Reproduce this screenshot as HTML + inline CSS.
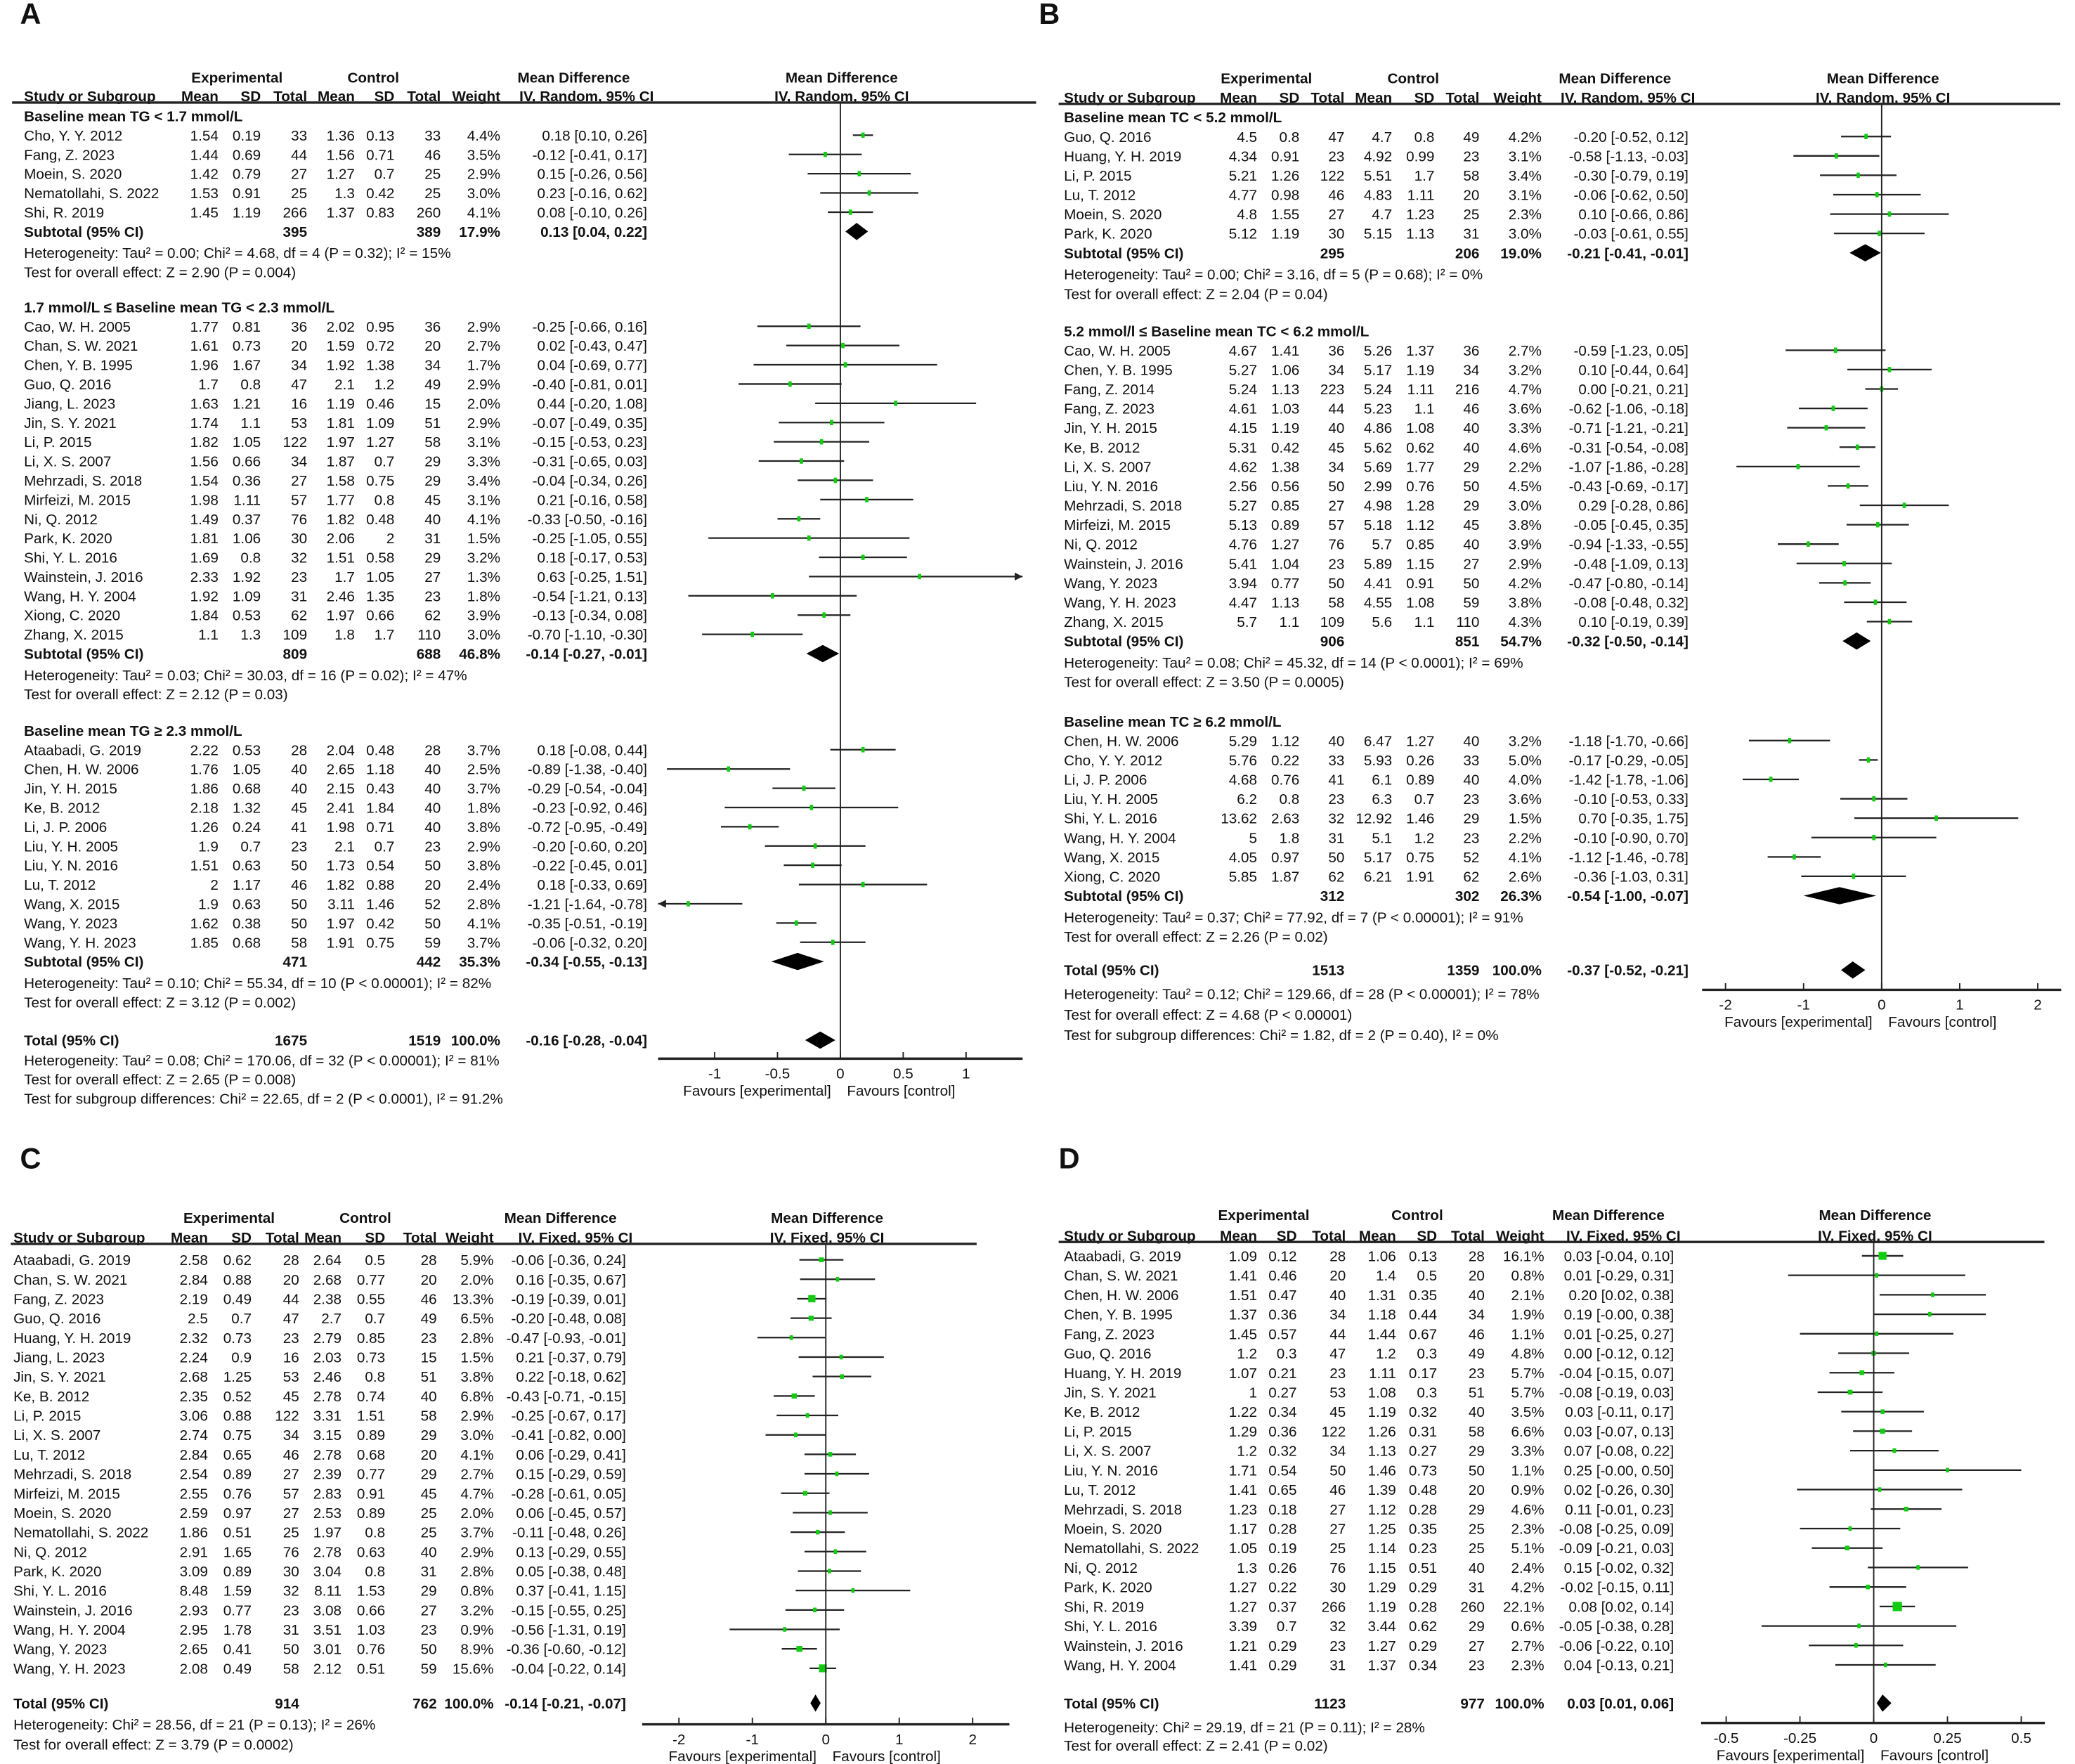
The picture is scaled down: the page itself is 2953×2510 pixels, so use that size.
<!DOCTYPE html>
<html><head><meta charset="utf-8">
<style>
html,body{margin:0;padding:0;background:#fff;}
svg{display:block;}
text{font-family:"Liberation Sans Narrow","Liberation Sans",sans-serif;font-size:11px;fill:#111;}
.b{font-weight:bold;}
.lbl{font-family:"Liberation Sans",sans-serif;font-size:22px;font-weight:bold;}
</style></head>
<body>
<svg id="fig" width="2953" height="2510" viewBox="0 0 1568 1333" xmlns="http://www.w3.org/2000/svg"></svg>
<script>
// ===== Panel A (TG, random) =====
const a1Studies=["Cho, Y. Y. 2012","Fang, Z. 2023","Moein, S. 2020","Nematollahi, S. 2022","Shi, R. 2019"];
const a1Stats=["1.54 0.19 33 1.36 0.13 33","1.44 0.69 44 1.56 0.71 46","1.42 0.79 27 1.27 0.7 25","1.53 0.91 25 1.3 0.42 25","1.45 1.19 266 1.37 0.83 260"];
const a1Weight=[4.4,3.5,2.9,3.0,4.1];
const a1MD=[0.18,-0.12,0.15,0.23,0.08];
const a1Lo=[0.10,-0.41,-0.26,-0.16,-0.10];
const a1Hi=[0.26,0.17,0.56,0.62,0.26];
const a1Sub=[395,389,17.9,0.13,0.04,0.22];

const a2Studies=["Cao, W. H. 2005","Chan, S. W. 2021","Chen, Y. B. 1995","Guo, Q. 2016","Jiang, L. 2023","Jin, S. Y. 2021","Li, P. 2015","Li, X. S. 2007","Mehrzadi, S. 2018","Mirfeizi, M. 2015","Ni, Q. 2012","Park, K. 2020","Shi, Y. L. 2016","Wainstein, J. 2016","Wang, H. Y. 2004","Xiong, C. 2020","Zhang, X. 2015"];
const a2Stats=["1.77 0.81 36 2.02 0.95 36","1.61 0.73 20 1.59 0.72 20","1.96 1.67 34 1.92 1.38 34","1.7 0.8 47 2.1 1.2 49","1.63 1.21 16 1.19 0.46 15","1.74 1.1 53 1.81 1.09 51","1.82 1.05 122 1.97 1.27 58","1.56 0.66 34 1.87 0.7 29","1.54 0.36 27 1.58 0.75 29","1.98 1.11 57 1.77 0.8 45","1.49 0.37 76 1.82 0.48 40","1.81 1.06 30 2.06 2 31","1.69 0.8 32 1.51 0.58 29","2.33 1.92 23 1.7 1.05 27","1.92 1.09 31 2.46 1.35 23","1.84 0.53 62 1.97 0.66 62","1.1 1.3 109 1.8 1.7 110"];
const a2Weight=[2.9,2.7,1.7,2.9,2.0,2.9,3.1,3.3,3.4,3.1,4.1,1.5,3.2,1.3,1.8,3.9,3.0];
const a2MD=[-0.25,0.02,0.04,-0.40,0.44,-0.07,-0.15,-0.31,-0.04,0.21,-0.33,-0.25,0.18,0.63,-0.54,-0.13,-0.70];
const a2Lo=[-0.66,-0.43,-0.69,-0.81,-0.20,-0.49,-0.53,-0.65,-0.34,-0.16,-0.50,-1.05,-0.17,-0.25,-1.21,-0.34,-1.10];
const a2Hi=[0.16,0.47,0.77,0.01,1.08,0.35,0.23,0.03,0.26,0.58,-0.16,0.55,0.53,1.51,0.13,0.08,-0.30];
const a2Sub=[809,688,46.8,-0.14,-0.27,-0.01];

const a3Studies=["Ataabadi, G. 2019","Chen, H. W. 2006","Jin, Y. H. 2015","Ke, B. 2012","Li, J. P. 2006","Liu, Y. H. 2005","Liu, Y. N. 2016","Lu, T. 2012","Wang, X. 2015","Wang, Y. 2023","Wang, Y. H. 2023"];
const a3Stats=["2.22 0.53 28 2.04 0.48 28","1.76 1.05 40 2.65 1.18 40","1.86 0.68 40 2.15 0.43 40","2.18 1.32 45 2.41 1.84 40","1.26 0.24 41 1.98 0.71 40","1.9 0.7 23 2.1 0.7 23","1.51 0.63 50 1.73 0.54 50","2 1.17 46 1.82 0.88 20","1.9 0.63 50 3.11 1.46 52","1.62 0.38 50 1.97 0.42 50","1.85 0.68 58 1.91 0.75 59"];
const a3Weight=[3.7,2.5,3.7,1.8,3.8,2.9,3.8,2.4,2.8,4.1,3.7];
const a3MD=[0.18,-0.89,-0.29,-0.23,-0.72,-0.20,-0.22,0.18,-1.21,-0.35,-0.06];
const a3Lo=[-0.08,-1.38,-0.54,-0.92,-0.95,-0.60,-0.45,-0.33,-1.64,-0.51,-0.32];
const a3Hi=[0.44,-0.40,-0.04,0.46,-0.49,0.20,0.01,0.69,-0.78,-0.19,0.20];
const a3Sub=[471,442,35.3,-0.34,-0.55,-0.13];
const aTotal=[1675,1519,100.0,-0.16,-0.28,-0.04];
const aTicks=[-1,-0.5,0,0.5,1];
const aTickLabels=["-1","-0.5","0","0.5","1"];

// ===== Panel B (TC, random) =====
const b1Studies=["Guo, Q. 2016","Huang, Y. H. 2019","Li, P. 2015","Lu, T. 2012","Moein, S. 2020","Park, K. 2020"];
const b1Stats=["4.5 0.8 47 4.7 0.8 49","4.34 0.91 23 4.92 0.99 23","5.21 1.26 122 5.51 1.7 58","4.77 0.98 46 4.83 1.11 20","4.8 1.55 27 4.7 1.23 25","5.12 1.19 30 5.15 1.13 31"];
const b1Weight=[4.2,3.1,3.4,3.1,2.3,3.0];
const b1MD=[-0.20,-0.58,-0.30,-0.06,0.10,-0.03];
const b1Lo=[-0.52,-1.13,-0.79,-0.62,-0.66,-0.61];
const b1Hi=[0.12,-0.03,0.19,0.50,0.86,0.55];
const b1Sub=[295,206,19.0,-0.21,-0.41,-0.01];

const b2Studies=["Cao, W. H. 2005","Chen, Y. B. 1995","Fang, Z. 2014","Fang, Z. 2023","Jin, Y. H. 2015","Ke, B. 2012","Li, X. S. 2007","Liu, Y. N. 2016","Mehrzadi, S. 2018","Mirfeizi, M. 2015","Ni, Q. 2012","Wainstein, J. 2016","Wang, Y. 2023","Wang, Y. H. 2023","Zhang, X. 2015"];
const b2Stats=["4.67 1.41 36 5.26 1.37 36","5.27 1.06 34 5.17 1.19 34","5.24 1.13 223 5.24 1.11 216","4.61 1.03 44 5.23 1.1 46","4.15 1.19 40 4.86 1.08 40","5.31 0.42 45 5.62 0.62 40","4.62 1.38 34 5.69 1.77 29","2.56 0.56 50 2.99 0.76 50","5.27 0.85 27 4.98 1.28 29","5.13 0.89 57 5.18 1.12 45","4.76 1.27 76 5.7 0.85 40","5.41 1.04 23 5.89 1.15 27","3.94 0.77 50 4.41 0.91 50","4.47 1.13 58 4.55 1.08 59","5.7 1.1 109 5.6 1.1 110"];
const b2Weight=[2.7,3.2,4.7,3.6,3.3,4.6,2.2,4.5,3.0,3.8,3.9,2.9,4.2,3.8,4.3];
const b2MD=[-0.59,0.10,0.00,-0.62,-0.71,-0.31,-1.07,-0.43,0.29,-0.05,-0.94,-0.48,-0.47,-0.08,0.10];
const b2Lo=[-1.23,-0.44,-0.21,-1.06,-1.21,-0.54,-1.86,-0.69,-0.28,-0.45,-1.33,-1.09,-0.80,-0.48,-0.19];
const b2Hi=[0.05,0.64,0.21,-0.18,-0.21,-0.08,-0.28,-0.17,0.86,0.35,-0.55,0.13,-0.14,0.32,0.39];
const b2Sub=[906,851,54.7,-0.32,-0.50,-0.14];

const b3Studies=["Chen, H. W. 2006","Cho, Y. Y. 2012","Li, J. P. 2006","Liu, Y. H. 2005","Shi, Y. L. 2016","Wang, H. Y. 2004","Wang, X. 2015","Xiong, C. 2020"];
const b3Stats=["5.29 1.12 40 6.47 1.27 40","5.76 0.22 33 5.93 0.26 33","4.68 0.76 41 6.1 0.89 40","6.2 0.8 23 6.3 0.7 23","13.62 2.63 32 12.92 1.46 29","5 1.8 31 5.1 1.2 23","4.05 0.97 50 5.17 0.75 52","5.85 1.87 62 6.21 1.91 62"];
const b3Weight=[3.2,5.0,4.0,3.6,1.5,2.2,4.1,2.6];
const b3MD=[-1.18,-0.17,-1.42,-0.10,0.70,-0.10,-1.12,-0.36];
const b3Lo=[-1.70,-0.29,-1.78,-0.53,-0.35,-0.90,-1.46,-1.03];
const b3Hi=[-0.66,-0.05,-1.06,0.33,1.75,0.70,-0.78,0.31];
const b3Sub=[312,302,26.3,-0.54,-1.00,-0.07];
const bTotal=[1513,1359,100.0,-0.37,-0.52,-0.21];
const bTicks=[-2,-1,0,1,2];
const bTickLabels=["-2","-1","0","1","2"];

// ===== Panel C (fixed) =====
const cStudies=["Ataabadi, G. 2019","Chan, S. W. 2021","Fang, Z. 2023","Guo, Q. 2016","Huang, Y. H. 2019","Jiang, L. 2023","Jin, S. Y. 2021","Ke, B. 2012","Li, P. 2015","Li, X. S. 2007","Lu, T. 2012","Mehrzadi, S. 2018","Mirfeizi, M. 2015","Moein, S. 2020","Nematollahi, S. 2022","Ni, Q. 2012","Park, K. 2020","Shi, Y. L. 2016","Wainstein, J. 2016","Wang, H. Y. 2004","Wang, Y. 2023","Wang, Y. H. 2023"];
const cStats=["2.58 0.62 28 2.64 0.5 28","2.84 0.88 20 2.68 0.77 20","2.19 0.49 44 2.38 0.55 46","2.5 0.7 47 2.7 0.7 49","2.32 0.73 23 2.79 0.85 23","2.24 0.9 16 2.03 0.73 15","2.68 1.25 53 2.46 0.8 51","2.35 0.52 45 2.78 0.74 40","3.06 0.88 122 3.31 1.51 58","2.74 0.75 34 3.15 0.89 29","2.84 0.65 46 2.78 0.68 20","2.54 0.89 27 2.39 0.77 29","2.55 0.76 57 2.83 0.91 45","2.59 0.97 27 2.53 0.89 25","1.86 0.51 25 1.97 0.8 25","2.91 1.65 76 2.78 0.63 40","3.09 0.89 30 3.04 0.8 31","8.48 1.59 32 8.11 1.53 29","2.93 0.77 23 3.08 0.66 27","2.95 1.78 31 3.51 1.03 23","2.65 0.41 50 3.01 0.76 50","2.08 0.49 58 2.12 0.51 59"];
const cWeight=[5.9,2.0,13.3,6.5,2.8,1.5,3.8,6.8,2.9,3.0,4.1,2.7,4.7,2.0,3.7,2.9,2.8,0.8,3.2,0.9,8.9,15.6];
const cMD=[-0.06,0.16,-0.19,-0.20,-0.47,0.21,0.22,-0.43,-0.25,-0.41,0.06,0.15,-0.28,0.06,-0.11,0.13,0.05,0.37,-0.15,-0.56,-0.36,-0.04];
const cLo=[-0.36,-0.35,-0.39,-0.48,-0.93,-0.37,-0.18,-0.71,-0.67,-0.82,-0.29,-0.29,-0.61,-0.45,-0.48,-0.29,-0.38,-0.41,-0.55,-1.31,-0.60,-0.22];
const cHi=[0.24,0.67,0.01,0.08,-0.01,0.79,0.62,-0.15,0.17,0.00,0.41,0.59,0.05,0.57,0.26,0.55,0.48,1.15,0.25,0.19,-0.12,0.14];
const cTotal=[914,762,100.0,-0.14,-0.21,-0.07];
const cTicks=[-2,-1,0,1,2];
const cTickLabels=["-2","-1","0","1","2"];

// ===== Panel D (fixed) =====
const dStudies=["Ataabadi, G. 2019","Chan, S. W. 2021","Chen, H. W. 2006","Chen, Y. B. 1995","Fang, Z. 2023","Guo, Q. 2016","Huang, Y. H. 2019","Jin, S. Y. 2021","Ke, B. 2012","Li, P. 2015","Li, X. S. 2007","Liu, Y. N. 2016","Lu, T. 2012","Mehrzadi, S. 2018","Moein, S. 2020","Nematollahi, S. 2022","Ni, Q. 2012","Park, K. 2020","Shi, R. 2019","Shi, Y. L. 2016","Wainstein, J. 2016","Wang, H. Y. 2004"];
const dStats=["1.09 0.12 28 1.06 0.13 28","1.41 0.46 20 1.4 0.5 20","1.51 0.47 40 1.31 0.35 40","1.37 0.36 34 1.18 0.44 34","1.45 0.57 44 1.44 0.67 46","1.2 0.3 47 1.2 0.3 49","1.07 0.21 23 1.11 0.17 23","1 0.27 53 1.08 0.3 51","1.22 0.34 45 1.19 0.32 40","1.29 0.36 122 1.26 0.31 58","1.2 0.32 34 1.13 0.27 29","1.71 0.54 50 1.46 0.73 50","1.41 0.65 46 1.39 0.48 20","1.23 0.18 27 1.12 0.28 29","1.17 0.28 27 1.25 0.35 25","1.05 0.19 25 1.14 0.23 25","1.3 0.26 76 1.15 0.51 40","1.27 0.22 30 1.29 0.29 31","1.27 0.37 266 1.19 0.28 260","3.39 0.7 32 3.44 0.62 29","1.21 0.29 23 1.27 0.29 27","1.41 0.29 31 1.37 0.34 23"];
const dWeight=[16.1,0.8,2.1,1.9,1.1,4.8,5.7,5.7,3.5,6.6,3.3,1.1,0.9,4.6,2.3,5.1,2.4,4.2,22.1,0.6,2.7,2.3];
const dMD=[0.03,0.01,0.20,0.19,0.01,0.00,-0.04,-0.08,0.03,0.03,0.07,0.25,0.02,0.11,-0.08,-0.09,0.15,-0.02,0.08,-0.05,-0.06,0.04];
const dLo=[-0.04,-0.29,0.02,-0.00,-0.25,-0.12,-0.15,-0.19,-0.11,-0.07,-0.08,-0.00,-0.26,-0.01,-0.25,-0.21,-0.02,-0.15,0.02,-0.38,-0.22,-0.13];
const dHi=[0.10,0.31,0.38,0.38,0.27,0.12,0.07,0.03,0.17,0.13,0.22,0.50,0.30,0.23,0.09,0.03,0.32,0.11,0.14,0.28,0.10,0.21];
const dTotal=[1123,977,100.0,0.03,0.01,0.06];
const dTicks=[-0.5,-0.25,0,0.25,0.5];
const dTickLabels=["-0.5","-0.25","0","0.25","0.5"];

const NS="http://www.w3.org/2000/svg";
const svg=document.getElementById('fig');
function mk(tag,attrs,name){
  const el=document.createElementNS(NS,tag);
  for(const k in attrs) el.setAttribute(k,attrs[k]);
  
  
  svg.appendChild(el);
  return el;
}
function txt(x,y,s,name,anchor,bold,cls){
  const el=mk('text',{x:x,y:y+4,'text-anchor':anchor||'start'},name);
  if(bold) el.setAttribute('class','b');
  if(cls) el.setAttribute('class',cls);
  el.textContent=s;
  return el;
}
function f2(v){return Object.is(v,-0)?"-0.00":v.toFixed(2);}
function ciStr(md,lo,hi){return f2(md)+" ["+f2(lo)+", "+f2(hi)+"]";}
function X(P,v){return P.zero+v*P.ppu;}

function header(P){
  txt(P.expC,P.h1,"Experimental","experimental-header","middle",true);
  txt(P.ctlC,P.h1,"Control","control-header","middle",true);
  txt(P.mdL,P.h1,"Mean Difference","mean-difference-header",'start',true);
  txt(P.zero+1,P.h1,"Mean Difference","plot-mean-difference-header","middle",true);
  txt(P.x0,P.h2,"Study or Subgroup","study-column-header",'start',true);
  const hs=["Mean","SD","Total","Mean","SD","Total","Weight"];
  hs.forEach((h,i)=>{txt(P.cols[i],P.h2,h,'column-header-'+h.toLowerCase(),'end',true);});
  txt(P.cols[7]+5,P.h2,"IV, "+P.model+", 95% CI","ci-column-header",'end',true);
  txt(P.zero+1,P.h2,"IV, "+P.model+", 95% CI","plot-ci-header","middle",true);
  mk('line',{x1:P.lx1,x2:P.lx2,y1:P.h2+5,y2:P.h2+5,stroke:'#222','stroke-width':1.8},'header-rule');
}
function studyMark(P,y,md,lo,hi,w){
  const a=P.rmin,b=P.rmax;
  const l=Math.max(lo,a),h=Math.min(hi,b);
  mk('line',{x1:X(P,l),x2:X(P,h),y1:y,y2:y,stroke:'#222','stroke-width':1.2},'ci-line');
  if(hi>b){const xe=X(P,b);mk('polygon',{points:`${xe},${y} ${xe-6},${y-3} ${xe-6},${y+3}`,fill:'#222'},'ci-arrow-right');}
  if(lo<a){const xs=X(P,a);mk('polygon',{points:`${xs},${y} ${xs+6},${y-3} ${xs+6},${y+3}`,fill:'#222'},'ci-arrow-left');}
  let sw,sh;
  if(P.fixed){sw=Math.max(2.5,1.5*Math.sqrt(w));sh=Math.max(3.5,sw);}else{sw=2.5;sh=4;}
  mk('rect',{x:X(P,md)-sw/2,y:y-sh/2,width:sw,height:sh,fill:'#11cc11'},'study-point-estimate');
}
function diamond(P,y,md,lo,hi,name){
  mk('polygon',{points:`${X(P,lo)},${y} ${X(P,md)},${y-6.5} ${X(P,hi)},${y} ${X(P,md)},${y+6.5}`,fill:'#000'},name);
}
function studyRows(P,y0,step,names,stats,wts,md,lo,hi){
  names.forEach((n,i)=>{
    const y=y0+step*i;
    txt(P.x0,y,n,'study-name');
    stats[i].split(' ').forEach((s,j)=>{txt(P.cols[j],y,s,'study-stat','end');});
    txt(P.cols[6],y,wts[i].toFixed(1)+"%",'study-weight','end');
    txt(P.cols[7],y,ciStr(md[i],lo[i],hi[i]),'study-ci','end');
    studyMark(P,y,md[i],lo[i],hi[i],wts[i]);
  });
}
function summaryRow(P,y,label,sub,name){
  txt(P.x0,y,label,name+'-label','start',true);
  txt(P.cols[2],y,String(sub[0]),name+'-n-exp','end',true);
  txt(P.cols[5],y,String(sub[1]),name+'-n-ctl','end',true);
  txt(P.cols[6],y,sub[2].toFixed(1)+"%",name+'-weight','end',true);
  txt(P.cols[7],y,ciStr(sub[3],sub[4],sub[5]),name+'-ci','end',true);
  diamond(P,y,sub[3],sub[4],sub[5],name+'-diamond');
}
function section(P,hy,step,title,names,stats,wts,md,lo,hi,sub,het,test){
  txt(P.x0,hy,title,'subgroup-title','start',true);
  studyRows(P,hy+step,step,names,stats,wts,md,lo,hi);
  const n=names.length;
  summaryRow(P,hy+step*(n+1),"Subtotal (95% CI)",sub,'subtotal');
  txt(P.x0,hy+step*(n+2)+1.5,het,'subgroup-heterogeneity');
  txt(P.x0,hy+step*(n+3)+1.5,test,'subgroup-overall-effect');
}
function axis(P,ticks,labels,zTop){
  mk('line',{x1:P.zero,x2:P.zero,y1:zTop,y2:P.ay,stroke:'#222','stroke-width':1},'zero-line');
  mk('line',{x1:X(P,P.rmin),x2:X(P,P.rmax),y1:P.ay,y2:P.ay,stroke:'#222','stroke-width':1.8},'x-axis');
  ticks.forEach((t,i)=>{
    mk('line',{x1:X(P,t),x2:X(P,t),y1:P.ay-5,y2:P.ay,stroke:'#222','stroke-width':1},'x-tick');
    txt(X(P,t),P.ay+11,labels[i],'x-tick-label','middle');
  });
  txt(P.zero-7,P.ay+24,"Favours [experimental]",'favours-experimental-label','end');
  txt(P.zero+5,P.ay+24,"Favours [control]",'favours-control-label','start');
}

// ----- Panel A -----
txt(15,14,"A",'panel-label-a','start',false,'lbl');
const PA={x0:18,cols:[165,197,232,268,298,333,378,489],zero:635,ppu:95,rmin:-1.45,rmax:1.45,ay:800,h1:58.5,h2:72.5,expC:179,ctlC:282,mdL:391,lx1:9,lx2:783,model:"Random",fixed:false};
header(PA);
const sA=14.55;
section(PA,87.6,sA,"Baseline mean TG < 1.7 mmol/L",a1Studies,a1Stats,a1Weight,a1MD,a1Lo,a1Hi,a1Sub,"Heterogeneity: Tau² = 0.00; Chi² = 4.68, df = 4 (P = 0.32); I² = 15%","Test for overall effect: Z = 2.90 (P = 0.004)");
section(PA,232,sA,"1.7 mmol/L ≤ Baseline mean TG < 2.3 mmol/L",a2Studies,a2Stats,a2Weight,a2MD,a2Lo,a2Hi,a2Sub,"Heterogeneity: Tau² = 0.03; Chi² = 30.03, df = 16 (P = 0.02); I² = 47%","Test for overall effect: Z = 2.12 (P = 0.03)");
section(PA,552,sA,"Baseline mean TG ≥ 2.3 mmol/L",a3Studies,a3Stats,a3Weight,a3MD,a3Lo,a3Hi,a3Sub,"Heterogeneity: Tau² = 0.10; Chi² = 55.34, df = 10 (P < 0.00001); I² = 82%","Test for overall effect: Z = 3.12 (P = 0.002)");
summaryRow(PA,786,"Total (95% CI)",aTotal,'total');
txt(18,801,"Heterogeneity: Tau² = 0.08; Chi² = 170.06, df = 32 (P < 0.00001); I² = 81%",'total-heterogeneity');
txt(18,815.5,"Test for overall effect: Z = 2.65 (P = 0.008)",'total-overall-effect');
txt(18,830,"Test for subgroup differences: Chi² = 22.65, df = 2 (P < 0.0001), I² = 91.2%",'subgroup-differences');
axis(PA,aTicks,aTickLabels,77.5);

// ----- Panel B -----
txt(785,14,"B",'panel-label-b','start',false,'lbl');
const PB={x0:804,cols:[950,982,1016,1052,1084,1118,1165,1276],zero:1422,ppu:59,rmin:-2.3,rmax:2.3,ay:748,h1:59,h2:73.5,expC:957,ctlC:1068,mdL:1178,lx1:800,lx2:1557,model:"Random",fixed:false};
header(PB);
const sB=14.65;
section(PB,88.5,sB,"Baseline mean TC < 5.2 mmol/L",b1Studies,b1Stats,b1Weight,b1MD,b1Lo,b1Hi,b1Sub,"Heterogeneity: Tau² = 0.00; Chi² = 3.16, df = 5 (P = 0.68); I² = 0%","Test for overall effect: Z = 2.04 (P = 0.04)");
section(PB,250,sB,"5.2 mmol/l ≤ Baseline mean TC < 6.2 mmol/L",b2Studies,b2Stats,b2Weight,b2MD,b2Lo,b2Hi,b2Sub,"Heterogeneity: Tau² = 0.08; Chi² = 45.32, df = 14 (P < 0.0001); I² = 69%","Test for overall effect: Z = 3.50 (P = 0.0005)");
section(PB,545,sB,"Baseline mean TC ≥ 6.2 mmol/L",b3Studies,b3Stats,b3Weight,b3MD,b3Lo,b3Hi,b3Sub,"Heterogeneity: Tau² = 0.37; Chi² = 77.92, df = 7 (P < 0.00001); I² = 91%","Test for overall effect: Z = 2.26 (P = 0.02)");
summaryRow(PB,733,"Total (95% CI)",bTotal,'total');
txt(804,751,"Heterogeneity: Tau² = 0.12; Chi² = 129.66, df = 28 (P < 0.00001); I² = 78%",'total-heterogeneity');
txt(804,766.5,"Test for overall effect: Z = 4.68 (P < 0.00001)",'total-overall-effect');
txt(804,782,"Test for subgroup differences: Chi² = 1.82, df = 2 (P = 0.40), I² = 0%",'subgroup-differences');
axis(PB,bTicks,bTickLabels,79);

// ----- Panel C -----
txt(15,879,"C",'panel-label-c','start',false,'lbl');
const PC={x0:10,cols:[157,190,226,258,291,330,373,473],zero:624,ppu:55.5,rmin:-2.5,rmax:2.5,ay:1303,h1:920,h2:935,expC:173,ctlC:276,mdL:381,lx1:8,lx2:738,model:"Fixed",fixed:true};
header(PC);
studyRows(PC,952,14.7,cStudies,cStats,cWeight,cMD,cLo,cHi);
summaryRow(PC,1287,"Total (95% CI)",cTotal,'total');
txt(10,1303,"Heterogeneity: Chi² = 28.56, df = 21 (P = 0.13); I² = 26%",'total-heterogeneity');
txt(10,1318,"Test for overall effect: Z = 3.79 (P = 0.0002)",'total-overall-effect');
axis(PC,cTicks,cTickLabels,940);

// ----- Panel D -----
txt(800,879,"D",'panel-label-d','start',false,'lbl');
const PD={x0:804,cols:[950,980,1017,1055,1086,1122,1167,1265],zero:1416,ppu:223,rmin:-0.585,rmax:0.58,ay:1302,h1:918,h2:933.5,expC:955,ctlC:1071,mdL:1173,lx1:800,lx2:1545,model:"Fixed",fixed:true};
header(PD);
studyRows(PD,949,14.72,dStudies,dStats,dWeight,dMD,dLo,dHi);
summaryRow(PD,1287,"Total (95% CI)",dTotal,'total');
txt(804,1305,"Heterogeneity: Chi² = 29.19, df = 21 (P = 0.11); I² = 28%",'total-heterogeneity');
txt(804,1319,"Test for overall effect: Z = 2.41 (P = 0.02)",'total-overall-effect');
axis(PD,dTicks,dTickLabels,939);
</script>
</body></html>
